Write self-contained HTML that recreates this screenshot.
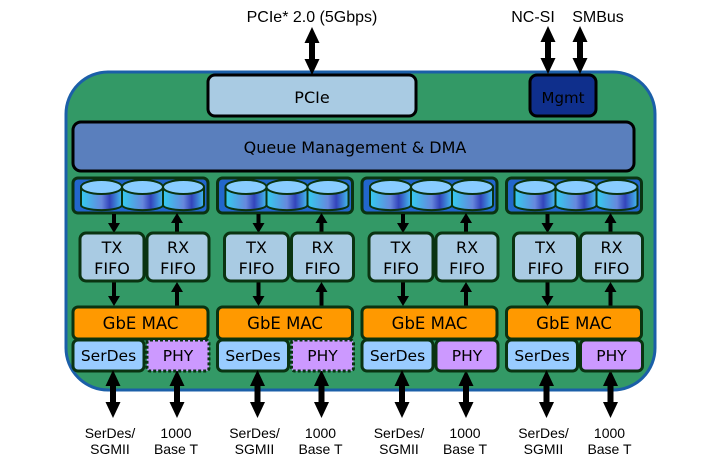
<!DOCTYPE html>
<html><head><style>body{margin:0;background:#fff}svg{display:block}text{font-family:"DejaVu Sans","Liberation Sans",sans-serif}text.a{font-family:"Liberation Sans",sans-serif}</style></head>
<body>
<svg width="707" height="465" viewBox="0 0 707 465" xmlns="http://www.w3.org/2000/svg">
<defs>
<linearGradient id="cy" x1="0" x2="1" y1="0" y2="0">
<stop offset="0" stop-color="#33ccee"/><stop offset="0.5" stop-color="#6688dd"/><stop offset="0.7" stop-color="#3344bb"/><stop offset="1" stop-color="#44bbee"/>
</linearGradient>
<path id="da" d="M0,0 L7.5,16 L3,16 L3,32 L7.5,32 L0,48 L-7.5,32 L-3,32 L-3,16 L-7.5,16 Z" fill="#000"/>
<path id="d18" d="M-2,0 h4 v9 h4 l-6,10 l-6,-10 h4 z" fill="#000"/>
<path id="d24" d="M-2,0 h4 v14 h4 l-6,10 l-6,-10 h4 z" fill="#000"/>
<g id="grp">
<rect x="73" y="178" width="135" height="35" rx="5" fill="#2266cc" stroke="#0a3311" stroke-width="3"/>
<g stroke="#0a3311" stroke-width="2">
<path d="M81,187 v18 a20,5 0 0 0 41,0 v-18" fill="url(#cy)"/><ellipse cx="101.5" cy="187" rx="20.5" ry="7" fill="#88ccff"/>
<path d="M122,187 v18 a20,5 0 0 0 41,0 v-18" fill="url(#cy)"/><ellipse cx="142.5" cy="187" rx="20.5" ry="7" fill="#88ccff"/>
<path d="M163,187 v18 a20,5 0 0 0 41,0 v-18" fill="url(#cy)"/><ellipse cx="183.5" cy="187" rx="20.5" ry="7" fill="#88ccff"/>
</g>
<use href="#d18" x="114" y="214"/>
<use href="#d18" transform="translate(177,232) scale(1,-1)"/>
<use href="#d24" x="114" y="282"/>
<use href="#d24" transform="translate(177,306) scale(1,-1)"/>
<rect x="80" y="233" width="64" height="48" rx="6" fill="#a9cbe3" stroke="#0a3311" stroke-width="3"/>
<rect x="147" y="233" width="62" height="48" rx="6" fill="#a9cbe3" stroke="#0a3311" stroke-width="3"/>
<text x="112" y="253" font-size="16" text-anchor="middle">TX</text><text x="112" y="274" font-size="16" text-anchor="middle">FIFO</text>
<text x="178" y="253" font-size="16" text-anchor="middle">RX</text><text x="178" y="274" font-size="16" text-anchor="middle">FIFO</text>
<rect x="73" y="307" width="135" height="32" rx="5" fill="#ff9900" stroke="#0a3311" stroke-width="3"/>
<text x="140.5" y="329" font-size="16.5" text-anchor="middle">GbE MAC</text>
<rect x="73" y="340" width="71" height="31" rx="5" fill="#99ccff" stroke="#0a3311" stroke-width="3"/>
<text x="108.5" y="361" font-size="15.5" text-anchor="middle">SerDes</text>
<use href="#da" x="113" y="370"/>
<use href="#da" x="177" y="370"/>
<text class="a" x="110" y="438" font-size="14" text-anchor="middle">SerDes/</text>
<text class="a" x="110" y="454" font-size="14" text-anchor="middle">SGMII</text>
<text class="a" x="176" y="438" font-size="14" text-anchor="middle">1000</text>
<text class="a" x="176" y="454" font-size="14" text-anchor="middle">Base T</text>
</g>
</defs>
<rect x="66" y="72" width="589" height="318" rx="42" fill="#339966" stroke="#1b5fa8" stroke-width="3"/>
<rect x="208" y="75" width="208" height="41" rx="7" fill="#a9cbe3" stroke="#000" stroke-width="3"/>
<text x="312" y="103" font-size="16" text-anchor="middle">PCIe</text>
<rect x="530" y="75" width="66" height="41" rx="7" fill="#0f2f8c" stroke="#000" stroke-width="3"/>
<text x="563" y="103" font-size="15" text-anchor="middle" fill="#000">Mgmt</text>
<rect x="73" y="122" width="561" height="49" rx="8" fill="#5a7fbd" stroke="#000" stroke-width="3"/>
<text x="355" y="153" font-size="16" text-anchor="middle">Queue Management &amp; DMA</text>
<use href="#da" x="312" y="27"/>
<use href="#da" x="548" y="26"/>
<use href="#da" x="580" y="26"/>
<text class="a" x="312" y="22" font-size="16" text-anchor="middle">PCIe* 2.0 (5Gbps)</text>
<text class="a" x="533" y="22" font-size="16" text-anchor="middle">NC-SI</text>
<text class="a" x="598" y="22" font-size="16" text-anchor="middle">SMBus</text>
<use href="#grp"/>
<use href="#grp" x="144.5"/>
<use href="#grp" x="289"/>
<use href="#grp" x="433.5"/>
<g font-size="15.5" text-anchor="middle">
<rect x="147" y="340" width="62" height="31" rx="3" fill="#cc99ff" stroke="#0a3311" stroke-width="3" stroke-dasharray="3,2"/>
<text x="178" y="361">PHY</text>
<rect x="291.5" y="340" width="62" height="31" rx="3" fill="#cc99ff" stroke="#0a3311" stroke-width="3" stroke-dasharray="3,2"/>
<text x="322.5" y="361">PHY</text>
<rect x="436" y="340" width="62" height="31" rx="5" fill="#cc99ff" stroke="#0a3311" stroke-width="3"/>
<text x="467" y="361">PHY</text>
<rect x="580.5" y="340" width="62" height="31" rx="5" fill="#cc99ff" stroke="#0a3311" stroke-width="3"/>
<text x="611.5" y="361">PHY</text>
</g>
</svg>
</body></html>
